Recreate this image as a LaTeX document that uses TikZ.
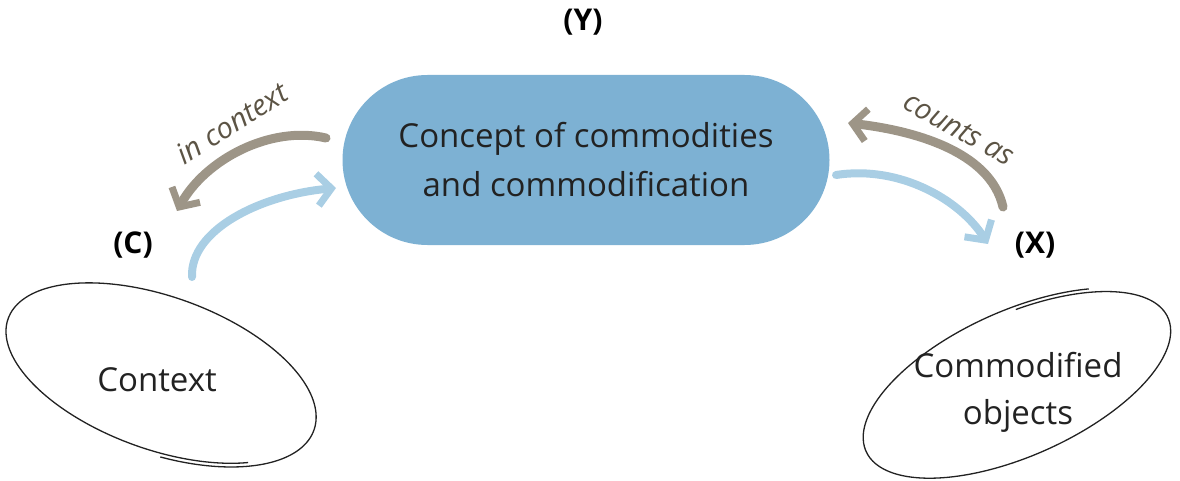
\documentclass[tikz,border=0pt]{standalone}
\usepackage{fontspec}
\setmainfont{Open Sans}
\usetikzlibrary{arrows.meta,positioning}
\definecolor{conceptblue}{HTML}{7DB1D3}
\definecolor{paleblue}{HTML}{A9CEE4}
\definecolor{taupe}{HTML}{9D9587}
\definecolor{bark}{HTML}{5C5445}
\definecolor{ink}{HTML}{222222}

\begin{document}
\begin{tikzpicture}[x=1pt,y=-1pt,
  concept/.style={fill=conceptblue,rounded corners=85pt,minimum width=487pt,
    minimum height=170pt,align=center,text=ink,font=\fontsize{33}{49}\selectfont},
  plain/.style={align=center,text=ink,font=\fontsize{33}{47}\selectfont},
  tag/.style={text=black,font=\fontsize{30}{34}\selectfont\bfseries},
  verb/.style={text=bark,font=\fontsize{29}{32}\selectfont\itshape},
  sketch/.style={draw=ink,line width=1.3pt},
  brush/.style={line width=9pt,line cap=round,
    -{Straight Barb[length=14pt,width=32pt,line width=7pt]}}]
  \path[use as bounding box] (0,0) rectangle (1180,481);

  % central concept and the two sides
  \node[concept] (concept) at (586,160) {Concept of commodities\\and commodification};
  \node[tag] (ytag) at (583,22) {(Y)};
  \node[plain] (ctx) at (157,380) {Context};
  \node[tag] (ctag) at (133,245) {(C)};
  \node[plain] (obj) at (1018,392) {Commodified\\objects};
  \node[tag] (xtag) at (1035,245) {(X)};

  % hand drawn rings
  \begin{scope}[shift={(160,374)},rotate=-20]
    \draw[sketch] plot[domain=45:440,samples=120,smooth]
      ({160*(1+0.00008*(\x-45))*cos(\x)},{75*(1+0.00014*(\x-45))*sin(\x)});
  \end{scope}
  \begin{scope}[shift={(1018,384)},rotate=24]
    \draw[sketch] plot[domain=280:668,samples=120,smooth]
      ({163*(1+0.00008*(\x-280))*cos(\x)},{70*(1+0.00014*(\x-280))*sin(\x)});
  \end{scope}

  % arrow ends
  \coordinate (ctxout) at (192,277);
  \coordinate (ctxin) at (177,211);
  \coordinate (cleft) at (326,138);
  \coordinate (cleftin) at (336,188);
  \coordinate (cright) at (836,175);
  \coordinate (crightin) at (848,123);
  \coordinate (objin) at (988,244);
  \coordinate (objout) at (1003,207);

  \draw[brush,taupe] (cleft) .. controls (270,125) and (205,160) .. (ctxin);
  \draw[brush,paleblue,line width=8pt] (ctxout) .. controls (190,230) and (260,195) .. (cleftin);
  \draw[brush,paleblue,line width=8pt] (cright) .. controls (900,165) and (960,200) .. (objin);
  \draw[brush,taupe] (objout) .. controls (990,150) and (910,130) .. (crightin);

  \node[verb,rotate=32] (inctx) at (232,123) {in context};
  \node[verb,rotate=-29] (countsas) at (959,129) {counts as};
\end{tikzpicture}
\end{document}
